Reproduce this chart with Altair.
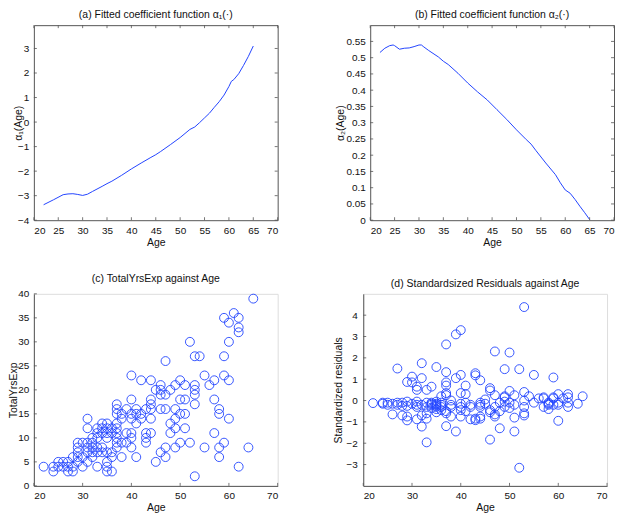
import altair as alt
import pandas as pd

# ---- data ----
age_a = [22, 24, 26, 27, 28, 29, 30, 31, 32, 34, 35, 36, 38, 40, 42, 44, 45, 46, 48, 50,
         52, 53, 54, 55, 56, 57, 58, 59, 60, 60.5, 61, 62, 63, 64, 65]
alpha1 = [-3.37, -3.17, -2.96, -2.93, -2.92, -2.95, -2.99, -2.94, -2.83, -2.62, -2.51, -2.41,
          -2.17, -1.91, -1.67, -1.44, -1.33, -1.2, -0.92, -0.63, -0.3, -0.2, -0.02, 0.17,
          0.36, 0.6, 0.83, 1.1, 1.45, 1.66, 1.73, 1.97, 2.31, 2.68, 3.1]

age_b = [22, 23, 24, 24.7, 25, 26, 27, 28, 29, 30, 30.5, 31, 32, 34, 35, 36, 38, 40, 42, 44,
         46, 48, 50, 52, 53, 54, 56, 58, 59, 60, 61, 62, 63, 64, 65]
alpha2 = [0.516, 0.529, 0.537, 0.539, 0.537, 0.526, 0.529, 0.53, 0.534, 0.539, 0.539, 0.533,
          0.522, 0.502, 0.489, 0.479, 0.452, 0.422, 0.395, 0.37, 0.34, 0.31, 0.278, 0.248,
          0.234, 0.214, 0.176, 0.14, 0.115, 0.093, 0.083, 0.064, 0.043, 0.023, 0.002]

age = ([22] + [24] * 2 + [25] * 2 + [26] * 2 + [27] * 3 + [28] * 3 + [29] * 5 + [30] * 3 +
       [31] * 6 + [32] * 5 + [33] * 6 + [34] * 5 + [35] * 8 + [36] * 5 + [37] * 9 + [38] * 4 +
       [39] * 3 + [40] * 7 + [41] * 4 + [42] * 3 + [43] * 4 + [44] * 6 + [45] * 2 + [46] * 5 +
       [47] * 5 + [48] * 3 + [49] * 5 + [50] * 4 + [51] * 4 + [52] * 2 + [53] * 6 + [54] +
       [55] * 2 + [56] + [57] * 3 + [58] * 4 + [59] * 4 + [60] * 4 + [61] + [62] * 4 + [64] + [65])

total_exp = [4,
             3, 4,
             4, 5,
             4, 5,
             3, 4, 5,
             3, 4, 6,
             5, 6, 7, 8, 9,
             4, 6, 9,
             5, 7, 8, 9, 12, 14,
             6, 7, 8, 9, 10,
             4, 7, 8, 10, 11, 12,
             7, 8, 11, 12, 13,
             3, 4, 5, 7, 10, 11, 12, 13,
             3, 6, 7, 11, 12,
             8, 9, 10, 11, 12, 13, 15, 16, 17,
             6, 9, 14, 15,
             9, 11, 16,
             8, 10, 11, 14, 15, 18, 23,
             6, 13, 15, 16,
             14, 15, 22,
             9, 10, 11, 16,
             11, 14, 16, 17, 18, 22,
             5, 20,
             7, 16, 19, 20, 21,
             6, 8, 16, 19, 26,
             11, 13, 20,
             8, 12, 14, 16, 21,
             9, 15, 18, 22,
             12, 15, 18, 21,
             9, 30,
             2, 17, 19, 20, 21, 27,
             27,
             8, 23,
             21,
             11, 18, 22,
             6, 8, 15, 16,
             9, 23, 27, 35,
             14, 22, 30, 34,
             36,
             4, 32, 33, 35,
             8,
             39]

resid = [-0.12,
         -0.1, -0.15,
         -0.1, -0.2,
         -0.15, -0.65,
         1.5, -0.1, -0.2,
         -0.1, -0.25, -0.7,
         0.87, -0.05, -0.25, -0.75, -0.93,
         1.12, 0.85, -0.15,
         0.65, 0.5, -0.05, -0.2, -0.3, -0.88,
         1.75, 1.05, -0.2, -0.7, -1.22,
         0.5, -0.1, -0.3, -0.6, -0.85, -1.96,
         0.65, -0.1, -0.2, -0.35, -0.15,
         1.57, -0.05, -0.15, -0.25, -0.3, -0.4, -0.55, -0.2,
         0.2, -0.1, -0.2, -0.3, -0.45,
         2.63, 1.33, 0.85, 0.7, 0.35, 0.25, -0.5, -0.6, -1.2,
         0.0, -0.2, -0.3, -0.75,
         3.1, 1.05, -1.45,
         3.3, 1.2, 0.35, -0.15, -0.3, -0.45, -0.75,
         0.7, 0.3, -0.1, -0.5,
         -0.2, -0.3, -0.88,
         1.28, 1.18, -0.92, -0.85,
         0.95, -0.1, -0.2, -0.3, -0.75, -0.85,
         0.05, -0.15,
         0.58, 0.47, -0.45, -0.55, -1.83,
         2.3, 0.25, -0.3, -0.65, -0.75,
         -0.1, -0.5, -1.3,
         1.47, 0.2, 0.15, -0.05, -0.3,
         2.25, 0.45, -0.1, -0.35,
         0.25, -0.2, -0.8, -1.45,
         1.47, -3.15,
         4.38, 0.4, 0.0, -0.3, -0.6, -0.7,
         0.2,
         1.2, -0.1,
         0.1,
         0.15, 0.1, -0.3,
         -0.15, -0.4, -0.2, -0.1,
         1.08, 0.15, 0.1, -0.2,
         0.3, -0.2, -0.1, -0.95,
         0.1,
         0.3, 0.15, -0.1, -0.3,
         -0.15,
         0.2]

xticks_top = [20, 25, 30, 35, 40, 45, 50, 55, 60, 65, 70]
yticks_a = [-4, -3, -2, -1, 0, 1, 2, 3]
yticks_b = [0, 0.05, 0.1, 0.15, 0.2, 0.25, 0.3, 0.35, 0.4, 0.45, 0.5, 0.55]
xticks_bot = [20, 30, 40, 50, 60, 70]
yticks_c = [0, 5, 10, 15, 20, 25, 30, 35, 40]
yticks_d = [-3, -2, -1, 0, 1, 2, 3, 4]

# ---- styling ----
FONT = "Liberation Sans"
BLUE = "#2244ff"
AX = "#555555"
TXT = "#111111"
TL = 3
WT, HT = 245, 196
WB, HB = 245, 193

df_a = pd.DataFrame({"Age": age_a, "v": alpha1})
df_b = pd.DataFrame({"Age": age_b, "v": alpha2})
df_s = pd.DataFrame({"Age": age, "Exp": total_exp, "Res": resid})


def title(t):
    return alt.TitleParams(t, font=FONT, fontSize=10.5, fontWeight="normal",
                           color=TXT, offset=4, anchor="middle")


def tick_layers(xscale, yscale, xax, yax, xt, yt, W, H, box):
    dx = pd.DataFrame({"t": xt})
    dy = pd.DataFrame({"t": yt})
    layers = []
    xs = [(H, H - TL)] + ([(0, TL)] if box else [])
    ys = [(0, TL)] + ([(W, W - TL)] if box else [])
    for a, b in xs:
        layers.append(alt.Chart(dx).mark_rule(color=AX, strokeWidth=0.8).encode(
            x=alt.X("t:Q", scale=xscale, axis=xax),
            y=alt.value(a), y2=alt.value(b)))
    for a, b in ys:
        layers.append(alt.Chart(dy).mark_rule(color=AX, strokeWidth=0.8).encode(
            y=alt.Y("t:Q", scale=yscale, axis=yax),
            x=alt.value(a), x2=alt.value(b)))
    return layers


def panel(df, mark, yfield, xt, yt, ydom, ytitle, ttl, W, H, box, ylp, ytp):
    xs = alt.Scale(domain=[20, 70], nice=False, zero=False)
    ys = alt.Scale(domain=ydom, nice=False, zero=False)
    common = dict(ticks=False, domainColor=AX, grid=False, labelFont=FONT, titleFont=FONT,
                  labelFontSize=10, titleFontSize=10.5, titleFontWeight="normal",
                  labelColor=TXT, titleColor=TXT)
    xax = alt.Axis(values=xt, title="Age", domain=not box, labelPadding=5, titlePadding=2,
                   format="d", **common)
    yax = alt.Axis(values=yt, title=ytitle, domain=not box, labelPadding=ylp,
                   titlePadding=ytp, format="~g", **common)
    main = mark.encode(x=alt.X("Age:Q", scale=xs, axis=xax),
                       y=alt.Y(f"{yfield}:Q", scale=ys, axis=yax))
    props = dict(width=W, height=H, title=title(ttl))
    if box:
        props["view"] = alt.ViewBackground(stroke=AX, strokeWidth=1)
    return alt.layer(main, *tick_layers(xs, ys, xax, yax, xt, yt, W, H, box)).properties(**props)


chart_a = panel(df_a, alt.Chart(df_a).mark_line(color=BLUE, strokeWidth=1), "v",
                xticks_top, yticks_a, [-4, 3.95], "α₁(Age)",
                "(a) Fitted coefficient function α₁(·)", WT, HT, True, 5, -6)
chart_b = panel(df_b, alt.Chart(df_b).mark_line(color=BLUE, strokeWidth=1), "v",
                xticks_top, yticks_b, [0, 0.6], "α₂(Age)",
                "(b) Fitted coefficient function α₂(·)", WT, HT, True, 5, 0)

pt = dict(shape="circle", filled=False, size=80, strokeWidth=0.9, color=BLUE, opacity=1)
chart_c = panel(df_s, alt.Chart(df_s).mark_point(**pt), "Exp",
                xticks_bot, yticks_c, [0, 40], "TotalYrsExp",
                "(c) TotalYrsExp against Age", WB, HB, False, 5, -1)
chart_d = panel(df_s, alt.Chart(df_s).mark_point(**pt), "Res",
                xticks_bot, yticks_d, [-4, 5], "Standardized residuals",
                "(d) Standardsized Residuals against Age", WB, HB, False, 6, 2)

top = alt.hconcat(chart_a, chart_b, spacing=57)
bottom = alt.hconcat(chart_c, chart_d, spacing=55)
chart = alt.vconcat(top, bottom, spacing=26).properties(padding=0).configure_view(
    stroke=None).configure(background="white")

chart.save("out.html", embed_options={"renderer": "svg", "actions": False})
